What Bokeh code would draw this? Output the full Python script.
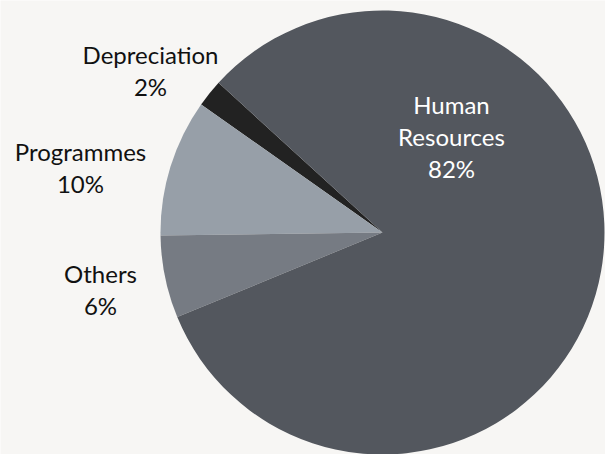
import numpy as np
from bokeh.plotting import figure
from bokeh.models import ColumnDataSource
from bokeh.core.properties import value
from bokeh.embed import file_html
from bokeh.resources import INLINE

# data (counter-clockwise order, starting from Depreciation)
categories = ["Depreciation", "Programmes", "Others", "Human Resources"]
shares = [2, 10, 6, 82]
label_text = ["Depreciation\n2%", "Programmes\n10%", "Others\n6%", "Human\nResources\n82%"]

# style / layout
colors = ["#222222", "#979fa8", "#767b83", "#53575e"]
text_colors = ["#111111", "#111111", "#111111", "#ffffff"]
start_deg = 137.6
W, H = 605, 454
cx, cy_top, R = 382, 232, 222
label_x = [150, 80, 100, 451]
label_y_top = [70, 167, 289, 136]

vals = np.array(shares, dtype=float)
frac = vals / vals.sum()
ends = np.radians(start_deg) + np.cumsum(frac) * 2 * np.pi
starts = ends - frac * 2 * np.pi

src = ColumnDataSource(dict(cat=categories, start=starts, end=ends, color=colors))

p = figure(width=W, height=H, x_range=(0, W), y_range=(0, H),
           output_backend="svg", toolbar_location=None, min_border=0)
p.axis.visible = False
p.grid.visible = False
p.outline_line_color = None
p.background_fill_color = "#f7f6f4"
p.border_fill_color = "#f7f6f4"

p.wedge(x=cx, y=H - cy_top, radius=R, start_angle="start", end_angle="end",
        fill_color="color", line_color=None, source=src)

lsrc = ColumnDataSource(dict(x=label_x, y=[H - v for v in label_y_top],
                             t=label_text, c=text_colors))
p.text(x="x", y="y", text="t", text_color="c", source=lsrc,
       text_align="center", text_baseline="middle",
       text_font=value("Lato"), text_font_size="24px", text_line_height=1.09)

open("out.html", "w").write(file_html(p, INLINE))
